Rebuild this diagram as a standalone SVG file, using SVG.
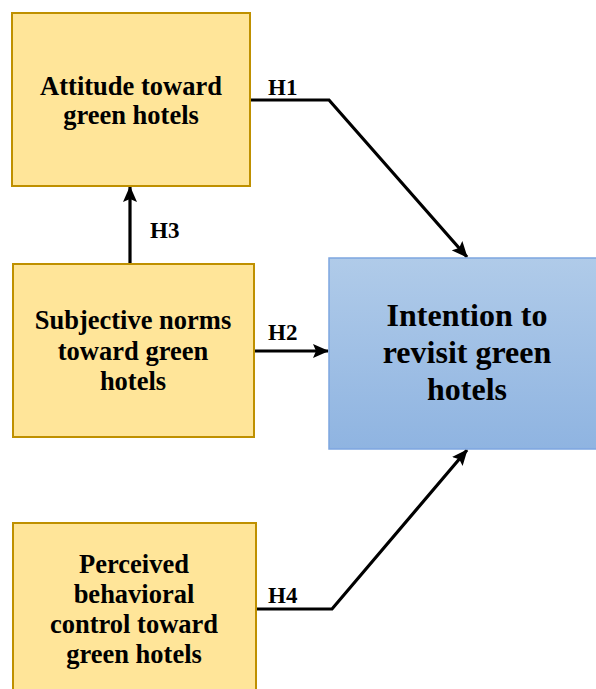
<svg xmlns="http://www.w3.org/2000/svg" width="596" height="689" viewBox="0 0 596 689">
  <style>
    .box { fill: #FFE599; stroke: #BF9000; stroke-width: 2; }
    .blue { fill: url(#blueGrad); stroke: #7EA6E0; stroke-width: 1.5; }
    .t { font-family: "Liberation Serif", "Times New Roman", serif; font-weight: bold; fill: #000; text-anchor: middle; }
    .nt { font-size: 26.5px; }
    .bt { font-size: 32px; }
    .lbl { font-family: "Liberation Serif", "Times New Roman", serif; font-weight: bold; font-size: 23px; fill: #000; }
    .conn { fill: none; stroke: #000; stroke-width: 3.2; marker-end: url(#arrow); }
  </style>
  <defs>
    <linearGradient id="blueGrad" x1="0" y1="0" x2="0" y2="1">
      <stop offset="0" stop-color="#B0CBE9"/>
      <stop offset="1" stop-color="#8FB4E1"/>
    </linearGradient>
    <marker id="arrow" viewBox="0 0 16 14" refX="15" refY="7" markerWidth="16" markerHeight="14" markerUnits="userSpaceOnUse" orient="auto">
      <path d="M0,0 L16,7 L0,14 L3,7 z" fill="#000"/>
    </marker>
  </defs>

  <g id="connectors">
    <path class="conn" d="M250,100 L329,100 L467,257"/>
    <path class="conn" d="M130,264 L130,187"/>
    <path class="conn" d="M254,351 L328,351"/>
    <path class="conn" d="M256,609 L332,609 L467,450"/>
    <text class="lbl" x="268" y="95">H1</text>
    <text class="lbl" x="268" y="340">H2</text>
    <text class="lbl" x="150" y="238">H3</text>
    <text class="lbl" x="268" y="603">H4</text>
  </g>

  <g id="attitude">
    <rect class="box" x="12" y="13" width="238" height="173"/>
    <text class="t nt" x="131" y="95">Attitude toward</text>
    <text class="t nt" x="131" y="124">green hotels</text>
  </g>

  <g id="subjective">
    <rect class="box" x="13" y="264" width="241" height="173"/>
    <text class="t nt" x="133" y="329">Subjective norms</text>
    <text class="t nt" x="133" y="360">toward green</text>
    <text class="t nt" x="133" y="390">hotels</text>
  </g>

  <g id="perceived">
    <rect class="box" x="13" y="523" width="243" height="173"/>
    <text class="t nt" x="134" y="573">Perceived</text>
    <text class="t nt" x="134" y="603">behavioral</text>
    <text class="t nt" x="134" y="633">control toward</text>
    <text class="t nt" x="134" y="663">green hotels</text>
  </g>

  <g id="intention">
    <rect class="blue" x="329" y="258" width="277" height="191"/>
    <text class="t bt" x="467" y="326">Intention to</text>
    <text class="t bt" x="467" y="363">revisit green</text>
    <text class="t bt" x="467" y="400">hotels</text>
  </g>
</svg>
